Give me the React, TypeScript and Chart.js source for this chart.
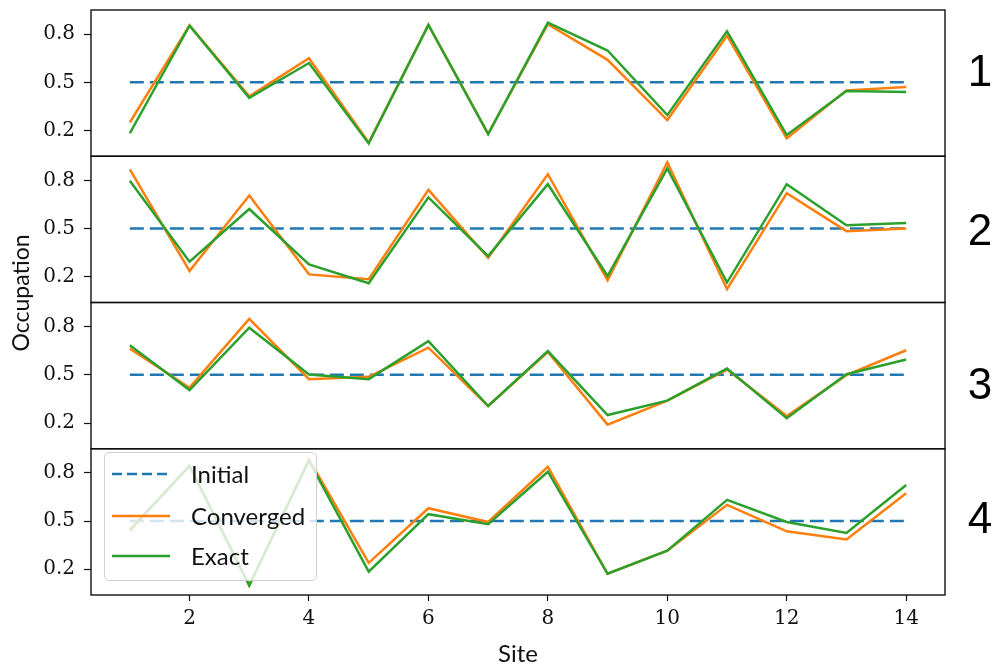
import React, { useEffect, useRef } from "react";
import Chart from "chart.js/auto";

const sites = [1, 2, 3, 4, 5, 6, 7, 8, 9, 10, 11, 12, 13, 14];
const xTicks = [2, 4, 6, 8, 10, 12, 14];
const yTicks = [0.2, 0.5, 0.8];
const panelLabels = ["1", "2", "3", "4"];
const seriesNames = ["Initial", "Converged", "Exact"];

const initialValues = [0.5, 0.5, 0.5, 0.5, 0.5, 0.5, 0.5, 0.5, 0.5, 0.5, 0.5, 0.5, 0.5, 0.5];

const panel1Converged = [0.25, 0.855, 0.413, 0.65, 0.125, 0.857, 0.18, 0.862, 0.64, 0.265, 0.79, 0.152, 0.45, 0.471];
const panel1Exact = [0.183, 0.852, 0.403, 0.62, 0.12, 0.857, 0.178, 0.871, 0.698, 0.296, 0.817, 0.172, 0.446, 0.44];
const panel2Converged = [0.869, 0.236, 0.706, 0.215, 0.185, 0.741, 0.318, 0.838, 0.178, 0.912, 0.123, 0.72, 0.484, 0.5];
const panel2Exact = [0.797, 0.294, 0.622, 0.277, 0.16, 0.694, 0.329, 0.776, 0.205, 0.875, 0.164, 0.776, 0.52, 0.535];
const panel3Converged = [0.663, 0.42, 0.848, 0.473, 0.488, 0.669, 0.306, 0.642, 0.19, 0.339, 0.533, 0.244, 0.498, 0.653];
const panel3Exact = [0.684, 0.405, 0.793, 0.502, 0.473, 0.71, 0.306, 0.648, 0.25, 0.339, 0.539, 0.23, 0.504, 0.595];
const panel4Converged = [0.45, 0.84, 0.1, 0.885, 0.24, 0.58, 0.494, 0.838, 0.172, 0.316, 0.601, 0.436, 0.385, 0.673];
const panel4Exact = [0.44, 0.845, 0.1, 0.875, 0.185, 0.543, 0.481, 0.807, 0.172, 0.316, 0.632, 0.494, 0.426, 0.725];

const panels = [
  { converged: panel1Converged, exact: panel1Exact },
  { converged: panel2Converged, exact: panel2Exact },
  { converged: panel3Converged, exact: panel3Exact },
  { converged: panel4Converged, exact: panel4Exact },
];

const BLUE = "#1f77b4";
const ORANGE = "#ff7f0e";
const GREEN = "#2ca02c";
const DASH = [14, 6];

const W = 996;
const H = 669;
const LEFT = 91;
const RIGHT = 945;
const TOP = 10;
const BOTTOM = 595;

const axisIds = ["p1", "p2", "p3", "p4"];

const framePlugin = {
  id: "frames",
  afterDatasetsDraw(chart: any) {
    const ctx = chart.ctx;
    const area = chart.chartArea;
    ctx.save();
    ctx.strokeStyle = "#111";
    ctx.lineWidth = 1.4;
    axisIds.forEach((id) => {
      const s = chart.scales[id];
      ctx.strokeRect(area.left, s.top, area.right - area.left, s.bottom - s.top);
    });
    ctx.restore();
  },
};

export default function App() {
  const ref = useRef<HTMLCanvasElement>(null);
  useEffect(() => {
    if (!ref.current) return;
    const datasets: any[] = [];
    panels.forEach((p, i) => {
      const yId = axisIds[i];
      datasets.push({
        label: seriesNames[0],
        data: sites.map((s, k) => ({ x: s, y: initialValues[k] })),
        borderColor: BLUE,
        borderDash: DASH,
        borderWidth: 2.5,
        pointRadius: 0,
        yAxisID: yId,
        order: 3,
      });
      datasets.push({
        label: seriesNames[1],
        data: sites.map((s, k) => ({ x: s, y: p.converged[k] })),
        borderColor: ORANGE,
        borderWidth: 2.5,
        pointRadius: 0,
        yAxisID: yId,
        order: 2,
      });
      datasets.push({
        label: seriesNames[2],
        data: sites.map((s, k) => ({ x: s, y: p.exact[k] })),
        borderColor: GREEN,
        borderWidth: 2.5,
        pointRadius: 0,
        yAxisID: yId,
        order: 1,
      });
    });

    const scales: any = {
      x: {
        type: "linear",
        min: 0.35,
        max: 14.65,
        afterBuildTicks: (axis: any) => {
          axis.ticks = xTicks.map((v) => ({ value: v }));
        },
        afterFit: (axis: any) => {
          axis.height = H - BOTTOM;
          axis.paddingLeft = 0;
          axis.paddingRight = 0;
        },
        ticks: {
          color: "#111",
          font: { family: "DejaVu Serif", size: 20 },
          padding: 6,
          maxRotation: 0,
          callback: (v: any) => String(v),
        },
        grid: { drawOnChartArea: false, drawTicks: true, tickLength: 6, color: "#111", tickWidth: 1.2 },
        border: { display: false },
        title: {
          display: true,
          text: "Site",
          color: "#111",
          font: { family: "Lato", size: 24 },
          padding: { top: 0, bottom: 0 },
        },
      },
    };
    // stacked axes: first declared goes to the bottom, so declare in reverse
    [...axisIds].reverse().forEach((id) => {
      scales[id] = {
        type: "linear",
        position: "left",
        stack: "panels",
        stackWeight: 1,
        offset: false,
        min: 0.04,
        max: 0.95,
        afterBuildTicks: (axis: any) => {
          axis.ticks = yTicks.map((v) => ({ value: v }));
        },
        afterFit: (axis: any) => {
          axis.width = LEFT;
          axis.paddingTop = 0;
          axis.paddingBottom = 0;
        },
        ticks: {
          color: "#111",
          font: { family: "DejaVu Serif", size: 20 },
          padding: 9,
          callback: (v: any) => Number(v).toFixed(1),
        },
        grid: { drawOnChartArea: false, drawTicks: true, tickLength: 7, color: "#111", tickWidth: 1.2 },
        border: { display: false },
      };
    });

    const chart = new Chart(ref.current, {
      type: "line",
      data: { datasets },
      options: {
        animation: false,
        responsive: false,
        maintainAspectRatio: false,
        layout: { padding: { top: TOP, right: W - RIGHT, left: 0, bottom: 0 } },
        plugins: { legend: { display: false }, tooltip: { enabled: false } },
        scales,
      },
      plugins: [framePlugin],
    });
    return () => chart.destroy();
  }, []);

  const labelTops = [71, 230, 384, 518];
  const legendRows = [
    { name: seriesNames[0], color: BLUE, dashed: true, y: 473 },
    { name: seriesNames[1], color: ORANGE, dashed: false, y: 515 },
    { name: seriesNames[2], color: GREEN, dashed: false, y: 555 },
  ];

  return (
    <div style={{ position: "fixed", left: 0, top: 0, width: W, height: H, background: "#fff" }}>
      <canvas ref={ref} width={W} height={H} style={{ position: "absolute", left: 0, top: 0 }} />
      {panelLabels.map((t, i) => (
        <div
          key={t}
          style={{
            position: "absolute",
            left: 955,
            width: 50,
            top: labelTops[i] - 25,
            height: 50,
            lineHeight: "50px",
            textAlign: "center",
            fontFamily: "Liberation Sans, Arial, sans-serif",
            fontSize: 44,
            color: "#000",
          }}
        >
          {t}
        </div>
      ))}
      <div
        style={{
          position: "absolute",
          left: 20 - 80,
          top: 293 - 15,
          width: 160,
          height: 30,
          lineHeight: "30px",
          textAlign: "center",
          transform: "rotate(-90deg)",
          fontFamily: "Lato, sans-serif",
          fontSize: 23,
          color: "#111",
        }}
      >
        Occupation
      </div>
      <div
        style={{
          position: "absolute",
          left: 104,
          top: 452,
          width: 213,
          height: 129,
          boxSizing: "border-box",
          background: "rgba(255,255,255,0.8)",
          border: "1px solid #d0d0d0",
          borderRadius: 5,
        }}
      >
        {legendRows.map((r) => (
          <div key={r.name}>
            <svg
              width={58}
              height={6}
              style={{ position: "absolute", left: 112 - 105, top: r.y - 452 - 3 }}
            >
              <line
                x1={0}
                y1={3}
                x2={58}
                y2={3}
                stroke={r.color}
                strokeWidth={2.5}
                strokeDasharray={r.dashed ? "10 5" : undefined}
              />
            </svg>
            <div
              style={{
                position: "absolute",
                left: 191 - 105,
                top: r.y - 452 - 16,
                height: 32,
                lineHeight: "32px",
                fontFamily: "Lato, sans-serif",
                fontSize: 24,
                color: "#111",
                whiteSpace: "nowrap",
              }}
            >
              {r.name}
            </div>
          </div>
        ))}
      </div>
    </div>
  );
}
